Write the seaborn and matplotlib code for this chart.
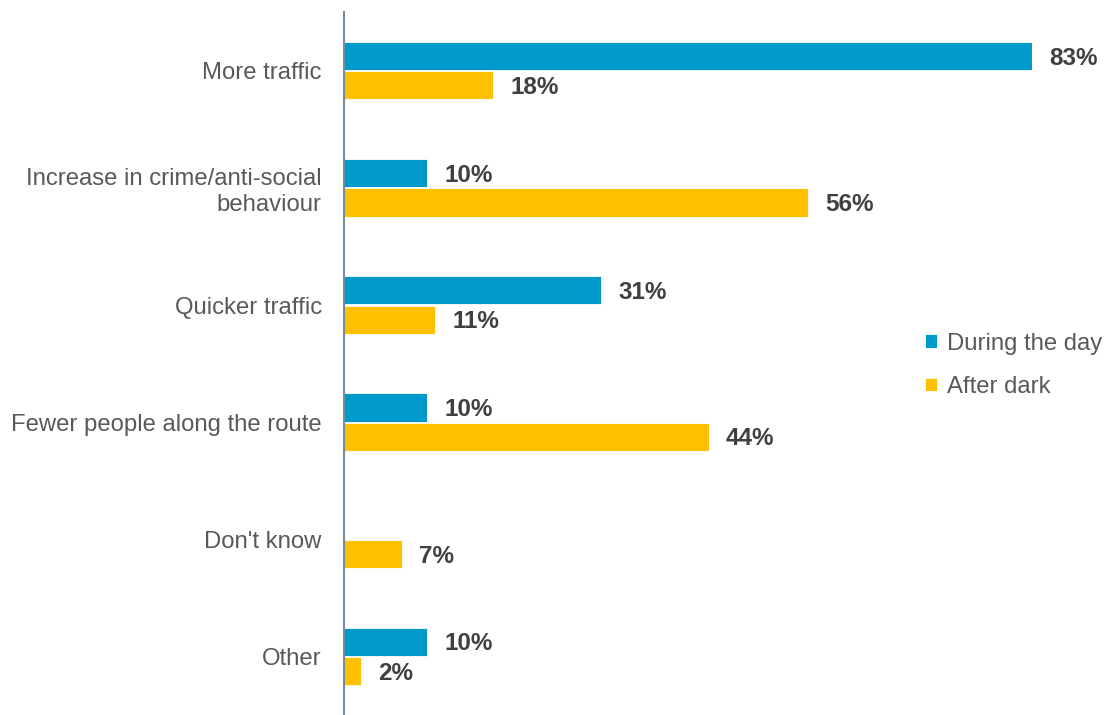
import numpy as np
import pandas as pd
import matplotlib
matplotlib.use("Agg")
import matplotlib.pyplot as plt
import seaborn as sns

# Survey responses: concerns about the route
categories = [
    "More traffic",
    "Increase in crime/anti-social\nbehaviour",
    "Quicker traffic",
    "Fewer people along the route",
    "Don't know",
    "Other",
]
during_day = [83, 10, 31, 10, np.nan, 10]
after_dark = [18, 56, 11, 44, 7, 2]
series_names = ["During the day", "After dark"]
palette = {"During the day": "#0099CC", "After dark": "#FFC000"}

df = pd.DataFrame({
    "category": categories * 2,
    "value": during_day + after_dark,
    "period": [series_names[0]] * len(categories) + [series_names[1]] * len(categories),
})

sns.set_theme(style="white")
plt.rcParams["font.family"] = ["Liberation Sans", "DejaVu Sans"]

fig = plt.figure(figsize=(11.06, 7.15), dpi=100)
ax = fig.add_axes([0.311, 0.0, 0.622, 0.983])

sns.barplot(
    data=df, y="category", x="value", hue="period", order=categories,
    hue_order=series_names, palette=palette, orient="h",
    width=0.5, gap=0.04, ax=ax, edgecolor="white", linewidth=0.6,
    saturation=1,
)

ax.set_xlim(0, 83)
ax.set_ylim(len(categories) - 0.5, -0.5)
ax.set_xlabel("")
ax.set_ylabel("")
ax.set_xticks([])
ax.tick_params(axis="y", length=0, pad=16, labelsize=17.2, labelcolor="#595959")

for side in ["top", "right", "bottom"]:
    ax.spines[side].set_visible(False)
ax.spines["left"].set_color("#758A9C")
ax.spines["left"].set_linewidth(1.5)

# Value labels at the end of each bar
for container in ax.containers:
    for bar in container:
        w = bar.get_width()
        if np.isnan(w) or w == 0:
            continue
        ax.annotate(
            f"{w:.0f}%",
            xy=(w, bar.get_y() + bar.get_height() / 2),
            xytext=(12.5, -1.5), textcoords="offset points",
            va="center", ha="left", fontsize=17.5, fontweight="bold",
            color="#404040", annotation_clip=False,
        )

leg = ax.legend(
    loc="center left", bbox_to_anchor=(0.817, 0.489), bbox_transform=fig.transFigure,
    frameon=False, fontsize=17.2, handlelength=0.5, handleheight=0.5,
    handletextpad=0.4, labelspacing=0.9,
)
for t in leg.get_texts():
    t.set_color("#595959")

fig.savefig("out.png", dpi=100)
